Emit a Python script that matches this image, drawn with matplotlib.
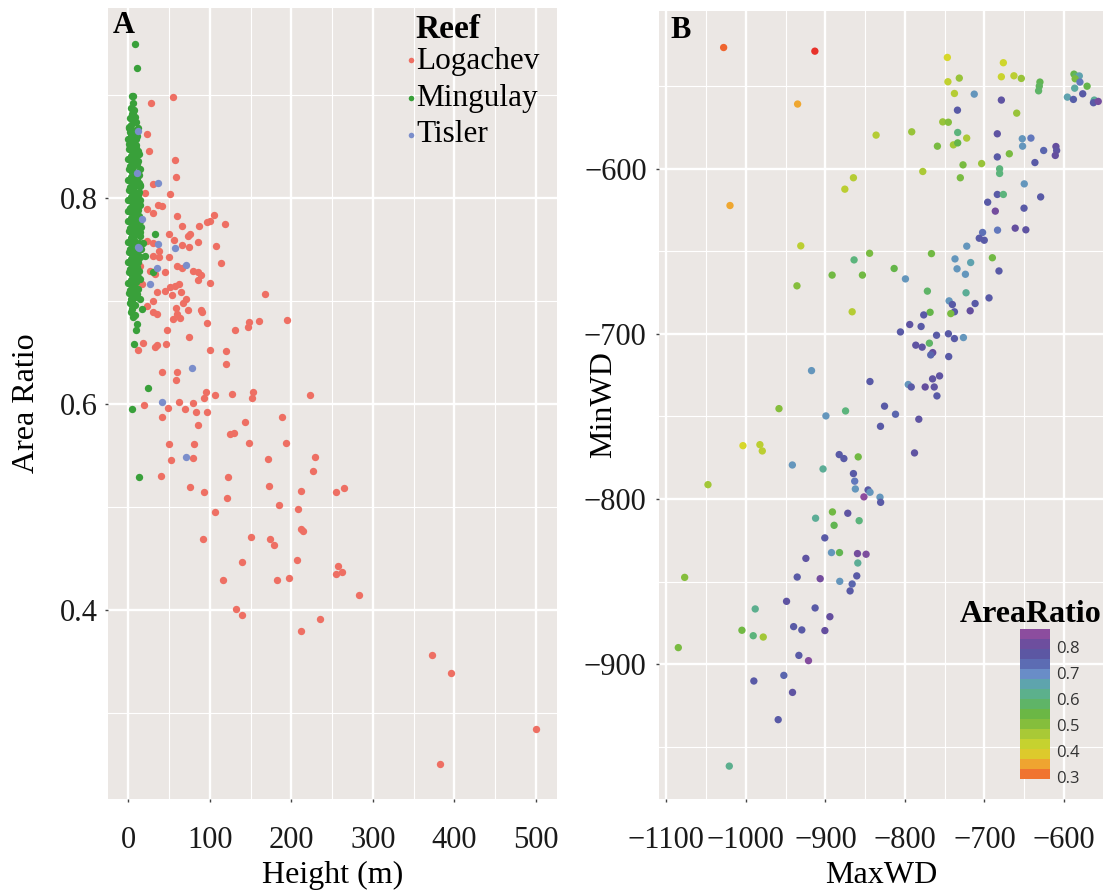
import numpy as np
import matplotlib
matplotlib.use("Agg")
import matplotlib.pyplot as plt
from matplotlib.ticker import MultipleLocator, FixedLocator
from matplotlib.colors import LinearSegmentedColormap, Normalize
import matplotlib.colorbar as mcolorbar

plt.rcParams['font.family'] = ['Liberation Serif', 'DejaVu Serif']

# ---------------- Panel A data: (Height m, Area Ratio) ----------------
reef_names = ["Logachev", "Mingulay", "Tisler"]

logachev_pts = [
    (55.2, 0.898), (27.8, 0.893), (22.5, 0.862), (25.0, 0.846), (56.9, 0.837), (58.9, 0.821),
    (29.9, 0.814), (51.1, 0.804), (20.9, 0.805), (36.4, 0.794), (40.9, 0.793), (22.5, 0.790),
    (29.9, 0.786), (59.3, 0.783), (105.1, 0.784), (100.2, 0.778), (96.9, 0.777), (119.0, 0.775),
    (65.4, 0.773), (87.1, 0.773), (49.9, 0.765), (73.6, 0.763), (75.7, 0.765), (85.9, 0.758),
    (56.0, 0.760), (65.8, 0.755), (74.8, 0.753), (107.2, 0.754), (22.5, 0.759), (30.7, 0.757),
    (38.0, 0.749), (29.9, 0.744), (38.0, 0.743), (50.3, 0.743), (114.0, 0.737), (60.1, 0.734),
    (79.8, 0.729), (85.9, 0.728), (88.8, 0.726), (65.4, 0.732), (26.6, 0.729), (32.3, 0.727),
    (45.0, 0.728), (14.3, 0.734), (16.8, 0.717), (85.9, 0.721), (100.2, 0.718), (62.6, 0.717),
    (57.3, 0.715), (51.1, 0.714), (45.0, 0.710), (34.8, 0.709), (64.2, 0.709), (53.6, 0.706),
    (167.7, 0.707), (30.7, 0.700), (70.8, 0.702), (67.5, 0.698), (58.5, 0.694), (73.6, 0.692),
    (89.6, 0.692), (22.5, 0.695), (30.7, 0.690), (34.8, 0.688), (59.3, 0.688), (63.4, 0.684),
    (55.2, 0.683), (90.0, 0.690), (194.3, 0.682), (160.7, 0.681), (147.6, 0.680), (146.4, 0.675),
    (96.6, 0.679), (130.5, 0.672), (47.0, 0.672), (74.4, 0.665), (18.4, 0.660), (32.7, 0.656),
    (35.6, 0.658), (46.2, 0.659), (11.9, 0.653), (99.8, 0.653), (119.4, 0.652), (119.8, 0.639),
    (41.7, 0.631), (59.3, 0.631),
    (58.5, 0.624), (95.3, 0.612), (106.3, 0.609), (126.8, 0.610), (153.4, 0.612), (151.7, 0.606),
    (222.9, 0.609), (92.8, 0.606), (19.2, 0.599), (61.8, 0.602), (79.8, 0.601), (48.7, 0.596),
    (69.9, 0.595), (83.0, 0.593), (96.1, 0.593), (41.3, 0.588), (188.1, 0.588), (85.1, 0.580),
    (143.1, 0.583), (124.7, 0.571), (129.7, 0.572), (50.3, 0.561), (80.2, 0.561), (147.6, 0.562),
    (193.5, 0.562), (52.8, 0.546), (79.8, 0.548), (171.4, 0.547), (228.6, 0.549), (226.2, 0.535),
    (39.7, 0.530), (122.7, 0.529), (75.7, 0.520), (93.3, 0.515), (172.6, 0.521), (212.3, 0.516),
    (255.2, 0.515), (264.2, 0.519), (120.7, 0.509), (184.9, 0.502), (207.8, 0.498), (106.7, 0.495),
    (91.2, 0.469), (150.9, 0.471), (173.8, 0.469), (178.3, 0.463), (211.5, 0.479), (213.9, 0.477),
    (139.1, 0.447), (207.4, 0.449), (257.7, 0.443), (254.8, 0.435), (262.2, 0.437), (116.6, 0.429),
    (182.0, 0.429), (196.7, 0.431), (282.6, 0.415), (132.1, 0.401), (139.1, 0.395), (234.8, 0.392),
    (212.3, 0.380), (373.0, 0.357), (395.9, 0.339), (500.6, 0.285), (382.8, 0.251)]

mingulay_pts = [
    (8.2, 0.950), (10.2, 0.927), (6.1, 0.899), (32.7, 0.765), (30.7, 0.728), (14.3, 0.702),
    (4.9, 0.693), (16.4, 0.693), (6.1, 0.685), (11.0, 0.678), (9.4, 0.672), (7.0, 0.659),
    (24.5, 0.616), (4.9, 0.595), (12.7, 0.529),
    (5, 0.899), (6, 0.893), (3, 0.888), (7, 0.886), (4, 0.882), (2, 0.878), (6, 0.876),
    (9, 0.874), (3, 0.871), (1, 0.868), (5, 0.866), (8, 0.864), (3, 0.862), (11, 0.861),
    (0, 0.858), (4, 0.856), (7, 0.854), (10, 0.852), (2, 0.851), (1, 0.848), (5, 0.846),
    (9, 0.845), (13, 0.843), (3, 0.841), (7, 0.840), (0, 0.838), (4, 0.836), (8, 0.835),
    (11, 0.833), (2, 0.831), (6, 0.830), (1, 0.828), (5, 0.826), (9, 0.825), (13, 0.823),
    (3, 0.821), (7, 0.820), (0, 0.818), (4, 0.816), (10, 0.815), (14, 0.813), (2, 0.811),
    (6, 0.810), (8, 0.812), (1, 0.808), (5, 0.806), (9, 0.805), (12, 0.803), (3, 0.801),
    (7, 0.800), (0, 0.798), (4, 0.796), (8, 0.795), (11, 0.793), (15, 0.794), (2, 0.791),
    (6, 0.790), (1, 0.788), (5, 0.786), (9, 0.785), (13, 0.783), (3, 0.781), (7, 0.780),
    (0, 0.778), (4, 0.776), (8, 0.775), (12, 0.773), (2, 0.771), (6, 0.770), (16, 0.772),
    (1, 0.768), (5, 0.766), (10, 0.765), (14, 0.763), (3, 0.761), (7, 0.760), (0, 0.758),
    (4, 0.756), (8, 0.755), (12, 0.753), (2, 0.751), (6, 0.750), (18, 0.757), (1, 0.748),
    (5, 0.746), (9, 0.745), (15, 0.743), (3, 0.741), (7, 0.740), (20, 0.744), (0, 0.738),
    (4, 0.736), (8, 0.735), (11, 0.733), (2, 0.731), (6, 0.730), (1, 0.728), (5, 0.726),
    (10, 0.725), (14, 0.722), (3, 0.721), (7, 0.720), (0, 0.718), (4, 0.716), (8, 0.714),
    (2, 0.711), (12, 0.712), (1, 0.708), (6, 0.706), (3, 0.702), (9, 0.704), (2, 0.698),
    (5, 0.696), (10, 0.788), (12, 0.846), (1, 0.869), (15, 0.812), (6, 0.832), (9, 0.777),
    (13, 0.744),
    (12, 0.868), (10, 0.858), (12, 0.836), (14, 0.828), (11, 0.818), (13, 0.806), (12, 0.789),
    (14, 0.778), (11, 0.769), (13, 0.757), (11, 0.749), (12, 0.738), (13, 0.729), (10, 0.719),
    (11, 0.707), (8, 0.696), (6, 0.884), (8, 0.879), (2, 0.864), (6, 0.859), (9, 0.849),
    (11, 0.842), (5, 0.834), (9, 0.819), (4, 0.809), (10, 0.799), (6, 0.783), (2, 0.778),
    (10, 0.776), (4, 0.763), (9, 0.753), (5, 0.733), (9, 0.727), (6, 0.716), (4, 0.701),
    (7, 0.711), (3, 0.747), (1, 0.738), (0, 0.788), (1, 0.853), (14, 0.798), (15, 0.767),
    (13, 0.815), (16, 0.751), (12, 0.724), (3, 0.690), (8, 0.687)]

tisler_pts = [
    (11.5, 0.865), (10.2, 0.825), (36.8, 0.815), (16.4, 0.780), (11.5, 0.753), (13.5, 0.752),
    (36.8, 0.756), (56.9, 0.752), (70.8, 0.735), (35.6, 0.732), (26.6, 0.717), (78.1, 0.635),
    (41.7, 0.602), (70.3, 0.549)]

logachev_height, logachev_ratio = map(list, zip(*logachev_pts))
mingulay_height, mingulay_ratio = map(list, zip(*mingulay_pts))
tisler_height, tisler_ratio = map(list, zip(*tisler_pts))

# ---------------- Panel B data: (MaxWD, MinWD, AreaRatio) ----------------
wd_pts = [
    (-1028, -526.8, 0.30), (-913.3, -529, 0.29), (-746.7, -532.8, 0.40), (-676.3, -536, 0.41),
    (-746, -547.5, 0.43), (-731.7, -545.3, 0.48), (-678.8, -544.5, 0.42), (-663, -543.9, 0.44),
    (-653.7, -545.5, 0.48), (-630.3, -547.7, 0.56), (-631.1, -550.2, 0.57), (-632, -553, 0.58),
    (-587.5, -542.9, 0.55), (-585, -544, 0.58), (-580.8, -544, 0.66), (-586, -545.7, 0.52),
    (-580, -547.7, 0.72), (-571, -550.2, 0.55), (-586.6, -551.4, 0.64), (-576.5, -554.8, 0.76),
    (-595.8, -556.8, 0.66), (-588.2, -558.2, 0.75), (-562, -558.6, 0.63), (-563, -560.2, 0.76),
    (-557, -559.4, 0.82), (-935, -561, 0.35), (-712.9, -555, 0.68), (-678.8, -558.6, 0.78),
    (-734, -564.7, 0.76), (-737.8, -554.6, 0.45), (-659.5, -566.5, 0.48), (-752.5, -571.8, 0.48),
    (-745.5, -572, 0.50), (-836.3, -579.8, 0.45), (-791.5, -577.8, 0.48), (-733.7, -578.2, 0.60),
    (-722.4, -581.6, 0.46), (-759.2, -586.5, 0.52), (-739.1, -585.7, 0.47), (-733.7, -584.5, 0.55),
    (-683.9, -579, 0.78), (-652.5, -582, 0.68), (-641.6, -581.6, 0.72), (-652.1, -586.5, 0.68),
    (-610.2, -586.7, 0.80), (-609.3, -589.1, 0.78), (-611, -592.1, 0.80), (-625.6, -589.1, 0.74),
    (-683.9, -593, 0.76), (-668.8, -591.1, 0.52), (-636.6, -596.4, 0.76), (-727, -597.8, 0.52),
    (-703.6, -597, 0.48), (-681, -600.2, 0.60), (-681, -603, 0.60), (-777.6, -601.8, 0.46),
    (-730.4, -605.6, 0.52), (-864.8, -605.6, 0.45), (-875.6, -612.5, 0.44), (-1020, -622.4, 0.35),
    (-650, -609.3, 0.68), (-683.9, -615.7, 0.76), (-676.3, -615.7, 0.60), (-696, -620.4, 0.76),
    (-629.4, -617.2, 0.76), (-686.4, -625.8, 0.82), (-650.3, -624, 0.76), (-702.4, -638.7, 0.73),
    (-706.6, -642.2, 0.76), (-700.3, -643.4, 0.76), (-683.6, -637.3, 0.72), (-661.4, -636.1, 0.80),
    (-648, -637.1, 0.78), (-931, -646.8, 0.44), (-864, -655.3, 0.60), (-844.5, -651.3, 0.52),
    (-766.7, -651.5, 0.53), (-737.1, -654.7, 0.68), (-722.3, -647, 0.68), (-717.4, -656.9, 0.66),
    (-690.1, -654, 0.53),
    (-813.6, -660.5, 0.55), (-734.5, -660.7, 0.68), (-724, -664, 0.68), (-681.8, -662, 0.76),
    (-891.6, -664.5, 0.53), (-853.5, -664.5, 0.53), (-935.8, -671, 0.50), (-799.4, -666.8, 0.68),
    (-771.8, -674.2, 0.58), (-723.2, -675.2, 0.63), (-694.3, -678.3, 0.76), (-744.5, -680.1, 0.68),
    (-740.4, -682.3, 0.76), (-737.8, -686.7, 0.76), (-742.4, -687.8, 0.52), (-711.8, -681.7, 0.76),
    (-718, -686.1, 0.80), (-866.4, -686.7, 0.45), (-768.4, -687, 0.55), (-776.4, -688.6, 0.76),
    (-794, -694.4, 0.78), (-779.7, -695.6, 0.76), (-805.7, -698.9, 0.76), (-760.3, -700.9, 0.76),
    (-745.4, -700, 0.76), (-737.8, -702.9, 0.76), (-726.5, -702.3, 0.68), (-786.4, -706.9, 0.78),
    (-778.4, -708.1, 0.78), (-769.3, -705.7, 0.58), (-765.1, -711.4, 0.80), (-767.6, -712.8, 0.74),
    (-745, -713.8, 0.76), (-917.5, -722.3, 0.68), (-844, -728.9, 0.76), (-795.9, -730.7, 0.68),
    (-792.1, -732.2, 0.76), (-774.6, -732.2, 0.80), (-763.2, -732.2, 0.78), (-765.3, -727.3, 0.78),
    (-756.5, -725.5, 0.78), (-759.8, -737.6, 0.76), (-958.4, -745.3, 0.50), (-899.4, -749.7, 0.68),
    (-874.7, -746.7, 0.60), (-825.7, -743.8, 0.76), (-811.9, -748.7, 0.74), (-782.6, -751.7, 0.78),
    (-830.8, -756, 0.76), (-1003.7, -767.7, 0.40), (-982.4, -767.1, 0.44), (-979.4, -770.9, 0.44),
    (-882.7, -773.1, 0.76), (-876.8, -775.5, 0.76), (-858.8, -774.5, 0.53), (-788, -772.1, 0.78),
    (-941.6, -779.4, 0.68), (-903, -781.8, 0.63), (-1047.7, -791.3, 0.47), (-864.8, -784.6, 0.76),
    (-863.2, -789.2, 0.72), (-862.4, -793.9, 0.68), (-846.4, -794.5, 0.76), (-843.9, -795.9, 0.68),
    (-851.6, -798.7, 0.85), (-831.4, -798.9, 0.68), (-830.6, -802, 0.76), (-891.2, -807.8, 0.53),
    (-871.9, -808.6, 0.78), (-912.4, -811.6, 0.63), (-857.6, -813.1, 0.60), (-889.1, -815.9, 0.56),
    (-900.8, -823.5, 0.76), (-892.4, -832.4, 0.68), (-882.3, -832.4, 0.56), (-859.7, -833, 0.82),
    (-848.9, -833.4, 0.83), (-859.3, -838.7, 0.63), (-924.6, -835.9, 0.78), (-1077, -847.4, 0.50),
    (-935.5, -847.2, 0.76), (-906.6, -848.2, 0.82), (-882, -849.8, 0.68), (-860.6, -846.5, 0.76),
    (-866.4, -851.4, 0.74), (-869, -855.6, 0.76), (-948.9, -861.9, 0.78), (-988.3, -866.5, 0.62),
    (-913, -865.9, 0.76), (-894.4, -871.2, 0.80), (-1005, -879.4, 0.53), (-990.8, -882.7, 0.60),
    (-978.2, -883.5, 0.47), (-940, -877.2, 0.76), (-929.7, -879.2, 0.76), (-900.7, -879.6, 0.80),
    (-1085, -889.9, 0.52), (-933.4, -894.6, 0.76), (-921.3, -897.8, 0.84), (-990, -910.1, 0.76),
    (-952.3, -906.7, 0.74), (-941.4, -917, 0.78), (-959.4, -933.5, 0.76), (-1020.9, -961.6, 0.62)]
max_wd, min_wd, area_ratio = map(list, zip(*wd_pts))
cbar_ticks = [0.3, 0.4, 0.5, 0.6, 0.7, 0.8]

# ---------------- figure / styling ----------------
W, H = 1107, 892
BG = '#EBE7E4'
fig = plt.figure(figsize=(W / 100, H / 100), dpi=100)
A_l, A_r, A_t, A_b = 108.3, 556.7, 8.3, 799.0
B_l, B_r, B_t, B_b = 658.5, 1103.0, 11.0, 799.0
axA = fig.add_axes([A_l / W, 1 - A_b / H, (A_r - A_l) / W, (A_b - A_t) / H])
axB = fig.add_axes([B_l / W, 1 - B_b / H, (B_r - B_l) / W, (B_b - B_t) / H])

def px2ax(px, py, l, r, t, b):
    return (px - l) / (r - l), (b - py) / (b - t)

TICK_FS = 22
TITLE_FS = 23

def style(ax):
    ax.set_facecolor(BG)
    for s in ax.spines.values():
        s.set_visible(False)
    ax.grid(True, which='major', color='white', lw=1.7, zorder=0)
    ax.grid(True, which='minor', color='white', lw=0.8, zorder=0)
    ax.set_axisbelow(True)
    ax.tick_params(which='major', length=2.5, width=1.0, color='#444444', labelsize=TICK_FS,
                   labelcolor='#1a1a1a')
    ax.tick_params(which='minor', length=0)
    ax.tick_params(axis='y', pad=5)
    ax.tick_params(axis='x', pad=17)

ms = 28

# ---------------- Panel A ----------------
style(axA)
colA = {"Logachev": '#EE6F63', "Mingulay": '#39A03A', "Tisler": '#7B8ECB'}
axA.scatter(logachev_height, logachev_ratio, s=ms, c=colA["Logachev"], lw=0, zorder=3)
axA.scatter(mingulay_height, mingulay_ratio, s=ms, c=colA["Mingulay"], lw=0, zorder=3)
axA.scatter(tisler_height, tisler_ratio, s=ms, c=colA["Tisler"], lw=0, zorder=3)
axA.set_xlim(-24.5, 525.6)
axA.set_ylim(0.2168, 0.9845)
axA.xaxis.set_major_locator(MultipleLocator(100))
axA.xaxis.set_minor_locator(MultipleLocator(50))
axA.yaxis.set_major_locator(FixedLocator([0.4, 0.6, 0.8]))
axA.yaxis.set_minor_locator(FixedLocator([0.3, 0.5, 0.7, 0.9]))
axA.set_xlabel('Height (m)', fontsize=TITLE_FS, labelpad=4.5)
axA.set_ylabel('Area Ratio', fontsize=TITLE_FS)
axA.yaxis.set_label_coords(px2ax(40.5, 0, A_l, A_r, A_t, A_b)[0], 0.5)
tx, ty = px2ax(113, 33, A_l, A_r, A_t, A_b)
axA.text(tx, ty, 'A', transform=axA.transAxes, fontsize=22, fontweight='bold',
         ha='left', va='baseline')

# legend (Reef), drawn inside the panel
lx, ly = px2ax(415, 37.5, A_l, A_r, A_t, A_b)
axA.text(lx, ly, 'Reef', transform=axA.transAxes, fontsize=24, fontweight='bold',
         ha='left', va='baseline')
for name, base_y, dot_y in zip(reef_names, [68.5, 106, 142], [60, 97.7, 134.5]):
    tx, ty = px2ax(416, base_y, A_l, A_r, A_t, A_b)
    axA.text(tx, ty, name, transform=axA.transAxes, fontsize=22.5, ha='left', va='baseline')
    dx, dy = px2ax(410.7, dot_y, A_l, A_r, A_t, A_b)
    axA.scatter([dx], [dy], s=16, c=colA[name], lw=0, transform=axA.transAxes, zorder=4,
                clip_on=False)

# ---------------- Panel B ----------------
style(axB)
cmap_nodes = [(0.29, '#E8322A'), (0.30, '#F06A30'), (0.35, '#EFA830'), (0.40, '#D6D82A'),
              (0.45, '#B4CC34'), (0.50, '#86BE3C'), (0.55, '#64B548'), (0.60, '#5CB47C'),
              (0.65, '#5CA8A8'), (0.70, '#6A8ACA'), (0.75, '#565EA8'), (0.80, '#644E9E'),
              (0.868, '#9A4C9E')]
vmin, vmax = 0.29, 0.868
cmap = LinearSegmentedColormap.from_list(
    'ar', [((v - vmin) / (vmax - vmin), c) for v, c in cmap_nodes])
norm = Normalize(vmin, vmax)
axB.scatter(max_wd, min_wd, c=area_ratio, cmap=cmap, norm=norm, s=ms, lw=0, zorder=3)
axB.set_xlim(-1109.9, -551)
axB.set_ylim(-981.5, -504.7)
axB.xaxis.set_major_locator(MultipleLocator(100))
axB.xaxis.set_minor_locator(MultipleLocator(50))
axB.yaxis.set_major_locator(FixedLocator([-900, -800, -700, -600]))
axB.yaxis.set_minor_locator(FixedLocator([-950, -850, -750, -650, -550]))
axB.tick_params(axis='y', pad=6)
axB.set_xlabel('MaxWD', fontsize=TITLE_FS, labelpad=4.5)
axB.set_ylabel('MinWD', fontsize=TITLE_FS)
axB.yaxis.set_label_coords(px2ax(618, 0, B_l, B_r, B_t, B_b)[0], 0.5)
tx, ty = px2ax(670, 38, B_l, B_r, B_t, B_b)
axB.text(tx, ty, 'B', transform=axB.transAxes, fontsize=22, fontweight='bold',
         ha='left', va='baseline')

c0x, c0y = px2ax(1020.3, 779.3, B_l, B_r, B_t, B_b)
c1x, c1y = px2ax(1050.3, 629.0, B_l, B_r, B_t, B_b)
cax = axB.inset_axes([c0x, c0y, c1x - c0x, c1y - c0y])
bounds = np.linspace(vmin, vmax, 16)
cb = mcolorbar.ColorbarBase(cax, cmap=cmap, norm=norm, boundaries=bounds, ticks=cbar_ticks,
                            orientation='vertical')
cb.outline.set_visible(False)
cax.tick_params(length=0, pad=4, labelsize=12, labelcolor='#333333')
cax.set_yticklabels([f'{v:.1f}' for v in cbar_ticks])
for t in cax.get_yticklabels():
    t.set_fontfamily(['Open Sans', 'DejaVu Sans'])
tx, ty = px2ax(1101, 621.7, B_l, B_r, B_t, B_b)
axB.text(tx, ty, 'AreaRatio', transform=axB.transAxes, fontsize=23, fontweight='bold',
         ha='right', va='baseline')

fig.savefig('out.png', dpi=100, facecolor='white')
